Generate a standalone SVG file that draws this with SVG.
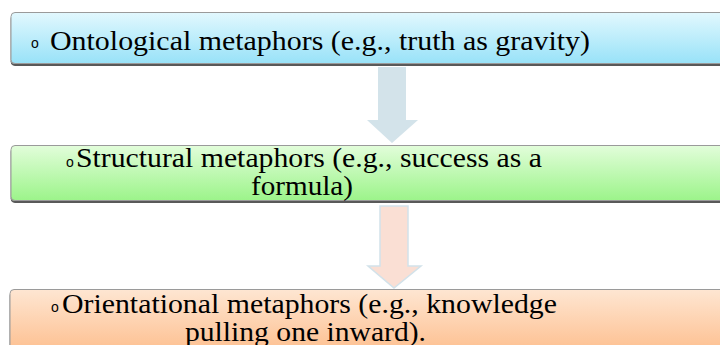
<svg xmlns="http://www.w3.org/2000/svg" width="720" height="345" viewBox="0 0 720 345">
<defs>
<linearGradient id="gBlue" x1="0" y1="0" x2="0" y2="1"><stop offset="0" stop-color="#e2f8fe"/><stop offset="1" stop-color="#98e2f8"/></linearGradient>
<linearGradient id="gGreen" x1="0" y1="0" x2="0" y2="1"><stop offset="0" stop-color="#e2fdda"/><stop offset="1" stop-color="#9cf48a"/></linearGradient>
<linearGradient id="gOrange" x1="0" y1="0" x2="0" y2="1"><stop offset="0" stop-color="#fee6d2"/><stop offset="1" stop-color="#fdbb88"/></linearGradient>
<filter id="sh" x="-5%" y="-20%" width="110%" height="150%"><feDropShadow dx="0" dy="2" stdDeviation="0.7" flood-color="#000" flood-opacity="0.65"/></filter>
</defs>
<style>
.box{stroke:#9a9a9a;stroke-width:1;filter:url(#sh)}
text.t{font-family:'Liberation Serif',serif;font-size:27px;fill:#000}
text.b{font-family:'Liberation Sans',sans-serif;font-size:14px;fill:#000}
</style>
<rect width="720" height="345" fill="#fff"/>
<g id="connectors">
<polygon points="378,67 406,67 406,120 418,120 392,143 367,120 378,120" fill="#d3e3ea"/>
<polygon points="380,206 408,206 408,266 421,266 394,288 368,266 380,266" fill="#fadfd4" stroke="#d2e2ea" stroke-width="1.5"/>
</g>
<g id="node1">
<rect class="box" x="11" y="12.5" width="730" height="51" rx="4" fill="url(#gBlue)"/>
<text class="b" x="31" y="48">o</text>
<text class="t" font-family="Liberation Serif" x="50" y="50" textLength="540" lengthAdjust="spacingAndGlyphs">Ontological metaphors (e.g., truth as gravity)</text>
</g>
<g id="node2">
<rect class="box" x="11" y="145.5" width="730" height="55" rx="4" fill="url(#gGreen)"/>
<text class="b" x="66" y="167">o</text>
<text class="t" font-family="Liberation Serif" x="76" y="167" textLength="466" lengthAdjust="spacingAndGlyphs">Structural metaphors (e.g., success as a</text>
<text class="t" font-family="Liberation Serif" x="251" y="195" textLength="102" lengthAdjust="spacingAndGlyphs">formula)</text>
</g>
<g id="node3">
<rect class="box" x="10" y="289.5" width="730" height="70" rx="4" fill="url(#gOrange)"/>
<text class="b" x="51" y="312">o</text>
<text class="t" font-family="Liberation Serif" x="62" y="313" textLength="495" lengthAdjust="spacingAndGlyphs">Orientational metaphors (e.g., knowledge</text>
<text class="t" font-family="Liberation Serif" x="185" y="341" textLength="241" lengthAdjust="spacingAndGlyphs">pulling one inward).</text>
</g>
</svg>
